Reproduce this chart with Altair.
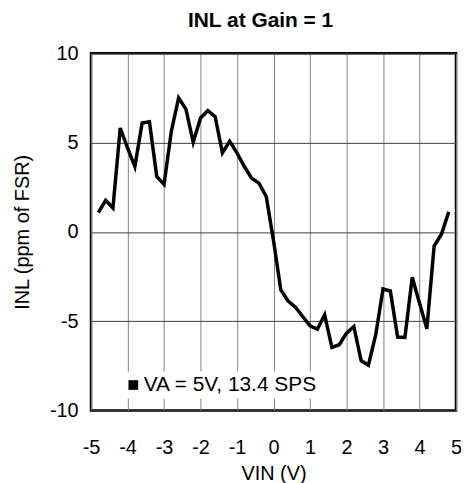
import altair as alt
import pandas as pd

vin = [-4.8, -4.6, -4.4, -4.2, -4.0, -3.8, -3.6, -3.4, -3.2, -3.0,
       -2.8, -2.6, -2.4, -2.2, -2.0, -1.8, -1.6, -1.4, -1.2, -1.0,
       -0.8, -0.6, -0.4, -0.2, 0.0, 0.2, 0.4, 0.6, 0.8, 1.0,
       1.2, 1.4, 1.6, 1.8, 2.0, 2.2, 2.4, 2.6, 2.8, 3.0,
       3.2, 3.4, 3.6, 3.8, 4.0, 4.2, 4.4, 4.6, 4.8]
inl = [1.08, 1.77, 1.34, 5.82, 4.7, 3.66, 6.1, 6.17, 3.1, 2.66,
       5.63, 7.5, 6.88, 5.02, 6.38, 6.79, 6.45, 4.43, 5.08, 4.41,
       3.66, 3.01, 2.73, 1.98, -0.5, -3.25, -3.87, -4.22, -4.74, -5.26,
       -5.45, -4.65, -6.47, -6.32, -5.67, -5.3, -7.21, -7.47, -5.76, -3.2,
       -3.31, -5.89, -5.91, -2.54, -4.0, -5.43, -0.8, -0.13, 1.12]
series_name = "VA = 5V, 13.4 SPS"
x_ticks = [-5, -4, -3, -2, -1, 0, 1, 2, 3, 4, 5]
y_ticks = [-10, -5, 0, 5, 10]

df = pd.DataFrame({"VIN": vin, "INL": inl, "series": [series_name] * len(vin)})

FONT = "Liberation Sans"

chart = alt.Chart(df).mark_line(color="black", strokeWidth=3.5).encode(
    x=alt.X("VIN:Q",
            scale=alt.Scale(domain=[-5, 5], nice=False, zero=False),
            axis=alt.Axis(values=x_ticks, title="VIN (V)", ticks=False, domain=False,
                          gridColor="#808080", gridOpacity=1, gridWidth=1,
                          labelExpr="'' + datum.value",
                          labelPadding=27, titlePadding=6, labelFlush=False)),
    y=alt.Y("INL:Q",
            scale=alt.Scale(domain=[-10, 10], nice=False, zero=False),
            axis=alt.Axis(values=y_ticks, title="INL (ppm of FSR)", ticks=False, domain=False,
                          gridColor="#404040", gridOpacity=1, gridWidth=1,
                          labelExpr="'' + datum.value",
                          labelPadding=13, titlePadding=17, labelFlush=False)),
    color=alt.Color("series:N",
                    scale=alt.Scale(range=["black"]),
                    legend=alt.Legend(title=None, orient="none", legendX=29, legendY=320,
                                      symbolType="square", symbolSize=95,
                                      symbolFillColor="black", symbolStrokeColor="black",
                                      symbolStrokeWidth=0, labelLimit=400,
                                      labelFontSize=21, labelFont=FONT, labelColor="black",
                                      fillColor="white", padding=3, labelOffset=0)),
).properties(
    width=367,
    height=359,
    title=alt.TitleParams("INL at Gain = 1", fontSize=21, font=FONT, fontWeight="bold",
                          anchor="middle", dx=-13, offset=13, color="black"),
    autosize=alt.AutoSizeParams(type="none"),
    padding={"left": 83.5, "top": 44.3, "right": 5, "bottom": 75},
).configure_axis(
    labelFont=FONT, titleFont=FONT, labelFontSize=20, titleFontSize=20,
    labelColor="black", titleColor="black", titleFontWeight="normal",
).configure_view(
    stroke="black", strokeWidth=2.5,
)

chart.save("out.html", embed_options={"renderer": "svg", "actions": False})
